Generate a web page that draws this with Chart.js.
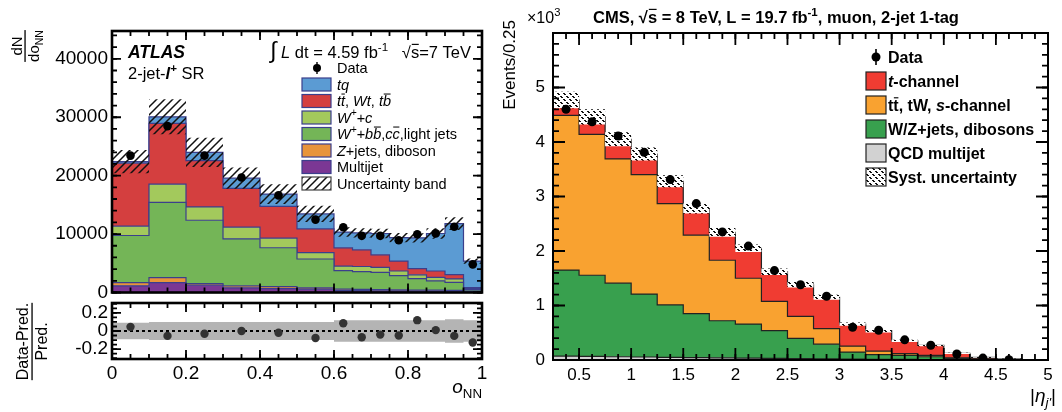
<!DOCTYPE html>
<html>
<head>
<meta charset="utf-8">
<script src="https://cdn.jsdelivr.net/npm/chart.js@4.4.0/dist/chart.umd.min.js"></script>
<style>
  body { margin: 0; background: #fff; }
  #wrap { position: relative; width: 1062px; height: 412px; overflow: hidden; }
  canvas { position: absolute; }
</style>
</head>
<body>
<div id="wrap">
  <canvas id="atlasMain" width="500" height="320" style="left:0px;top:0px"></canvas>
  <canvas id="atlasRatio" width="500" height="126" style="left:0px;top:286px"></canvas>
  <canvas id="cms" width="562" height="412" style="left:500px;top:0px"></canvas>
</div>
<script>
// ---- ATLAS, 2-jet-l+ SR, dN/do_NN per bin (bottom to top of the stack)
const atlasEdges = [0, 0.1, 0.2, 0.3, 0.4, 0.5, 0.6, 0.65, 0.7, 0.75, 0.8, 0.85, 0.9, 0.95, 1.0];
const atlasMultijet = [1135, 1700, 1250, 794, 680, 567, 340, 310, 290, 270, 250, 240, 230, 170];
const atlasZjets = [565, 850, 280, 341, 340, 228, 230, 220, 200, 180, 170, 160, 150, 80];
const atlasWlight = [8060, 12880, 10840, 8055, 6640, 4935, 3170, 3040, 2960, 2450, 1960, 1580, 1370, 230];
const atlasWc = [1590, 3120, 2270, 1990, 1640, 1080, 790, 880, 850, 780, 650, 620, 570, 170];
const atlasTop = [10780, 10390, 7940, 6635, 5450, 4080, 3120, 2850, 2150, 1700, 1070, 1080, 740, 170];
const atlasTq = [280, 1130, 1420, 1760, 2100, 2560, 2700, 2900, 3650, 4020, 5250, 6420, 8740, 4560];
const atlasData = [23430, 28480, 23430, 19690, 16625, 12480, 11170, 9700, 9700, 8950, 9980, 10120, 11260, 4820];
const atlasUnc = [2000, 3000, 2500, 1800, 1700, 1400, 800, 800, 800, 800, 800, 900, 1100, 450];
const atlasYTicks = [0, 10000, 20000, 30000, 40000];
const atlasXTicks = [0, 0.2, 0.4, 0.6, 0.8, 1];
const atlasXLabels = ['0', '0.2', '0.4', '0.6', '0.8', '1'];

// ratio panel (Data-Pred.)/Pred.
const ratioVals = [0.046, -0.054, -0.03, 0.0, -0.02, -0.077, 0.085, -0.07, -0.04, -0.05, 0.12, 0.01, -0.054, -0.127];
const ratioErr = [0.02, 0.02, 0.02, 0.02, 0.02, 0.025, 0.03, 0.03, 0.03, 0.03, 0.03, 0.03, 0.03, 0.04];
const ratioBand = [0.09, 0.1, 0.1, 0.1, 0.1, 0.1, 0.12, 0.12, 0.12, 0.12, 0.12, 0.12, 0.13, 0.12];
const ratioYTicks = [-0.2, 0, 0.2];
const ratioYLabels = ['-0.2', '0', '0.2'];

// ---- CMS, muon 2-jet 1-tag, events / 0.25 in units of 10^3
const cmsEdges = [0.25, 0.5, 0.75, 1, 1.25, 1.5, 1.75, 2, 2.25, 2.5, 2.75, 3, 3.25, 3.5, 3.75, 4, 4.25, 4.5, 4.75, 5];
const cmsQcd = [0.07, 0.065, 0.06, 0.055, 0.05, 0.045, 0.04, 0.035, 0.03, 0.025, 0.02, 0.015, 0.012, 0.01, 0.008, 0.005, 0.003, 0.002, 0.001];
const cmsWZ = [1.58, 1.49, 1.35, 1.155, 0.96, 0.805, 0.68, 0.625, 0.51, 0.37, 0.27, 0.131, 0.088, 0.075, 0.052, 0.025, 0.012, 0.003, 0.001];
const cmsTop = [2.84, 2.585, 2.28, 2.19, 1.86, 1.44, 1.11, 0.84, 0.535, 0.405, 0.287, 0.109, 0.064, 0.031, 0.025, 0.01, 0.005, 0.003, 0.001];
const cmsTch = [0.28, 0.32, 0.36, 0.38, 0.41, 0.49, 0.51, 0.55, 0.545, 0.58, 0.573, 0.405, 0.371, 0.234, 0.182, 0.082, 0.03, 0.012, 0.003];
const cmsData = [4.60, 4.37, 4.11, 3.81, 3.31, 2.87, 2.35, 2.09, 1.64, 1.38, 1.17, 0.60, 0.545, 0.37, 0.27, 0.11, 0.035, 0.004];
const cmsSyst = [0.15, 0.14, 0.13, 0.12, 0.11, 0.09, 0.08, 0.07, 0.06, 0.05, 0.045, 0.03, 0.03, 0.02, 0.015, 0.01, 0.008, 0.004, 0.002];
const cmsYTicks = [0, 1, 2, 3, 4, 5];
const cmsXTicks = [0.5, 1, 1.5, 2, 2.5, 3, 3.5, 4, 4.5, 5];
const cmsXLabels = ['0.5', '1', '1.5', '2', '2.5', '3', '3.5', '4', '4.5', '5'];

const FONT = "'Liberation Sans', Arial, Helvetica, sans-serif";
Chart.defaults.font.family = FONT;
Chart.defaults.color = '#000';

// step-histogram points: one point per edge, last edge repeats the last bin
function histPoints(edges, vals) {
  return edges.map((x, i) => ({ x: x, y: vals[Math.min(i, vals.length - 1)] }));
}
function centers(edges) {
  return edges.slice(1).map((e, i) => (e + edges[i]) / 2);
}
// running sums of the stacked components, bottom to top
function cumulate(parts) {
  const tops = [];
  let run = parts[0].map(() => 0);
  parts.forEach(p => { run = run.map((r, i) => r + p[i]); tops.push(run); });
  return tops;
}
function makePattern(size, paint) {
  const c = document.createElement('canvas');
  c.width = c.height = size;
  const g = c.getContext('2d');
  paint(g, size);
  return g.createPattern(c, 'repeat');
}

const atlasHatch = makePattern(8, (g, n) => {
  g.strokeStyle = '#111';
  g.lineWidth = 1.5;
  g.beginPath();
  g.moveTo(-1, n + 1); g.lineTo(n + 1, -1);
  g.moveTo(-1, 1); g.lineTo(1, -1);
  g.moveTo(n - 1, n + 1); g.lineTo(n + 1, n - 1);
  g.stroke();
});
// black/white checker-like fill for the systematic band
const cmsHatch = makePattern(6, (g, n) => {
  g.fillStyle = '#fff';
  g.fillRect(0, 0, n, n);
  g.fillStyle = '#111';
  g.fillRect(0, 0, 2, 1); g.fillRect(1, 1, 2, 1);
  g.fillRect(3, 3, 2, 1); g.fillRect(4, 4, 2, 1);
});

// mixed-style text: parts are [text, flags]; i italic, b bold, ^ sup, _ sub, - overline, L large
function partFont(f, size) {
  let s = size;
  if (f.includes('^') || f.includes('_')) s = size * 0.7;
  if (f.includes('L')) s = size * 1.4;
  return (f.includes('i') ? 'italic ' : '') + (f.includes('b') ? 'bold ' : '') + s + 'px ' + FONT;
}
function richWidth(ctx, parts, size) {
  let w = 0;
  parts.forEach(([t, f = '']) => { ctx.font = partFont(f, size); w += ctx.measureText(t).width; });
  return w;
}
function rich(ctx, x, y, parts, size, align) {
  const w = richWidth(ctx, parts, size);
  let cx = align === 'right' ? x - w : align === 'center' ? x - w / 2 : x;
  ctx.textAlign = 'left';
  ctx.textBaseline = 'alphabetic';
  parts.forEach(([t, f = '']) => {
    ctx.font = partFont(f, size);
    const dy = f.includes('^') ? -size * 0.42 : f.includes('_') ? size * 0.25 : 0;
    ctx.fillText(t, cx, y + dy);
    const tw = ctx.measureText(t).width;
    if (f.includes('-')) ctx.fillRect(cx + tw * 0.1, y + dy - size * 0.86, tw * 0.85, Math.max(1, size * 0.07));
    cx += tw;
  });
}
function rotatedFraction(ctx, cx, cy, top, bottom, size) {
  ctx.save();
  ctx.translate(cx, cy);
  ctx.rotate(-Math.PI / 2);
  const w = Math.max(richWidth(ctx, top, size), richWidth(ctx, bottom, size));
  rich(ctx, 0, -size * 0.22, top, size, 'center');
  ctx.fillRect(-w / 2, -0.6, w, 1.3);
  rich(ctx, 0, size * 0.92, bottom, size, 'center');
  ctx.restore();
}

// frame with inward major/minor ticks on all four sides
const frameTicks = {
  id: 'frameTicks',
  afterDatasetsDraw(chart, args, o) {
    const { ctx, chartArea: a } = chart;
    const xs = chart.scales.x, ys = chart.scales.y;
    ctx.save();
    ctx.strokeStyle = '#000';
    ctx.lineWidth = o.tickWidth;
    const marks = (scale, step, len, horizontal) => {
      const first = Math.ceil(scale.min / step - 1e-6), last = Math.floor(scale.max / step + 1e-6);
      ctx.beginPath();
      for (let k = first; k <= last; k++) {
        const p = scale.getPixelForValue(k * step);
        if (horizontal) {
          ctx.moveTo(p, a.bottom); ctx.lineTo(p, a.bottom - len);
          ctx.moveTo(p, a.top); ctx.lineTo(p, a.top + len);
        } else {
          ctx.moveTo(a.left, p); ctx.lineTo(a.left + len, p);
          ctx.moveTo(a.right, p); ctx.lineTo(a.right - len, p);
        }
      }
      ctx.stroke();
    };
    marks(xs, o.xMinor, o.minorLen, true);
    marks(xs, o.xMajor, o.majorLen, true);
    marks(ys, o.yMinor, o.minorLen, false);
    marks(ys, o.yMajor, o.majorLen, false);
    ctx.lineWidth = o.frameWidth;
    ctx.strokeRect(a.left, a.top, a.right - a.left, a.bottom - a.top);
    ctx.restore();
  }
};

// vertical error bars for datasets carrying an `errors` array
const errorBars = {
  id: 'errorBars',
  afterDatasetsDraw(chart) {
    const { ctx } = chart;
    const xs = chart.scales.x, ys = chart.scales.y;
    chart.data.datasets.forEach(ds => {
      if (!ds.errors) return;
      ctx.save();
      ctx.strokeStyle = ds.pointBackgroundColor;
      ctx.lineWidth = 1.8;
      ds.data.forEach((pt, i) => {
        const x = xs.getPixelForValue(pt.x);
        ctx.beginPath();
        ctx.moveTo(x, ys.getPixelForValue(pt.y - ds.errors[i]));
        ctx.lineTo(x, ys.getPixelForValue(pt.y + ds.errors[i]));
        ctx.stroke();
      });
      ctx.restore();
    });
  }
};

function stackSets(stack, edges, outline, width) {
  const tops = cumulate(stack.map(s => s.vals));
  return stack.map((s, k) => ({
    label: s.label,
    data: histPoints(edges, tops[k]),
    stepped: 'before',
    borderColor: outline,
    borderWidth: width,
    backgroundColor: s.color,
    fill: k === 0 ? 'origin' : '-1',
    pointRadius: 0,
    order: 10
  }));
}
function bandSets(edges, total, unc, pattern) {
  const lo = total.map((t, i) => t - unc[i]);
  const hi = total.map((t, i) => t + unc[i]);
  return [
    { data: histPoints(edges, lo), stepped: 'before', borderColor: 'rgba(0,0,0,0)', borderWidth: 0, pointRadius: 0, fill: false, order: 2 },
    { data: histPoints(edges, hi), stepped: 'before', borderColor: 'rgba(0,0,0,0)', borderWidth: 0, pointRadius: 0, fill: '-1', backgroundColor: pattern, order: 2 }
  ];
}
function sumOf(parts) {
  const tops = cumulate(parts);
  return tops[tops.length - 1];
}
function fixedTicks(vals) {
  return axis => { axis.ticks = vals.map(v => ({ value: v })); };
}
const noGrid = { display: false, drawTicks: false };
const noBorder = { display: false };

// ---------------- ATLAS main panel
const atlasStack = [
  { label: 'Multijet', vals: atlasMultijet, color: '#7b3794' },
  { label: 'Z+jets, diboson', vals: atlasZjets, color: '#e8943a' },
  { label: 'W+bb,cc,light jets', vals: atlasWlight, color: '#74b557' },
  { label: 'W+c', vals: atlasWc, color: '#a3c95c' },
  { label: 'tt, Wt, tb', vals: atlasTop, color: '#d43f3f' },
  { label: 'tq', vals: atlasTq, color: '#5b9bd3' }
];
const atlasTotal = sumOf(atlasStack.map(s => s.vals));

const atlasLegend = [
  [['tq', 'i']],
  [['t', 'i'], ['t', 'i-'], [', ', ''], ['Wt', 'i'], [', ', ''], ['t', 'i'], ['b', 'i-']],
  [['W', 'i'], ['+', 'i^'], ['+c', 'i']],
  [['W', 'i'], ['+', 'i^'], ['+b', 'i'], ['b', 'i-'], [',', ''], ['c', 'i'], ['c', 'i-'], [',light jets', '']],
  [['Z', 'i'], ['+jets, diboson', '']],
  [['Multijet', '']],
  [['Uncertainty band', '']]
];
const atlasLegendFill = ['#5b9bd3', '#d43f3f', '#a3c95c', '#74b557', '#e8943a', '#7b3794', atlasHatch];

const atlasText = {
  id: 'atlasText',
  afterDraw(chart) {
    const ctx = chart.ctx, a = chart.chartArea;
    ctx.save();
    ctx.fillStyle = '#000';
    rich(ctx, a.left + 16, a.top + 27, [['ATLAS', 'bi']], 17.5, 'left');
    rich(ctx, a.left + 16, a.top + 48, [['2-jet-', ''], ['l', 'bi'], ['+', 'b^'], [' SR', '']], 16.5, 'left');
    rich(ctx, a.right - 11, a.top + 27, [['\u222B', 'L'], [' ', ''], ['L', 'i'], [' dt = 4.59 fb', ''], ['-1', '^'], ['   \u221A', ''], ['s', '-'], ['=7 TeV', '']], 16.5, 'right');

    // legend
    const bx = 302, tx = 337, y0 = 68, dy = 16.5;
    ctx.beginPath();
    ctx.arc(bx + 15, y0, 4, 0, Math.PI * 2);
    ctx.fill();
    ctx.fillRect(bx + 14.3, y0 - 6, 1.4, 12);
    rich(ctx, tx, y0 + 5, [['Data', '']], 14.5, 'left');
    atlasLegend.forEach((parts, k) => {
      const cy = y0 + dy * (k + 1);
      ctx.fillStyle = atlasLegendFill[k];
      ctx.fillRect(bx, cy - 6.5, 29, 13);
      ctx.strokeStyle = k === 6 ? '#444' : '#3b3f8c';
      ctx.lineWidth = 1.2;
      ctx.strokeRect(bx, cy - 6.5, 29, 13);
      ctx.fillStyle = '#000';
      rich(ctx, tx, cy + 5, parts, 14.5, 'left');
    });

    rotatedFraction(ctx, 25, a.top + 15, [['dN', '']], [['do', ''], ['NN', '_']], 15);
    ctx.restore();
  }
};

new Chart(document.getElementById('atlasMain'), {
  type: 'line',
  data: {
    datasets: [
      ...stackSets(atlasStack, atlasEdges, '#3b3f8c', 1.2),
      ...bandSets(atlasEdges, atlasTotal, atlasUnc, atlasHatch),
      {
        label: 'Data',
        data: centers(atlasEdges).map((x, i) => ({ x: x, y: atlasData[i] })),
        showLine: false, pointRadius: 4.3, pointBackgroundColor: '#000', pointBorderWidth: 0, order: 0
      }
    ]
  },
  options: {
    responsive: false, animation: false, devicePixelRatio: 1,
    layout: { padding: { top: 31, bottom: 27.5, left: 0, right: 18 } },
    plugins: {
      legend: { display: false }, tooltip: { enabled: false },
      frameTicks: { xMinor: 0.05, xMajor: 0.2, yMinor: 2000, yMajor: 10000, majorLen: 9, minorLen: 5, tickWidth: 1.8, frameWidth: 2.6 }
    },
    scales: {
      x: { type: 'linear', min: 0, max: 1, display: false },
      y: {
        min: 0, max: 44760,
        afterFit: s => { s.width = 112; },
        afterBuildTicks: fixedTicks(atlasYTicks),
        grid: noGrid, border: noBorder,
        ticks: { font: { size: 19 }, color: '#000', padding: 4, callback: v => String(v) }
      }
    }
  },
  plugins: [errorBars, frameTicks, atlasText]
});

// ---------------- ATLAS ratio panel
const ratioText = {
  id: 'ratioText',
  afterDraw(chart) {
    const ctx = chart.ctx, a = chart.chartArea;
    ctx.save();
    ctx.fillStyle = '#000';
    rotatedFraction(ctx, 32, a.top + 38.5, [['Data-Pred.', '']], [['Pred.', '']], 16);
    rich(ctx, a.right, a.bottom + 34, [['o', 'i'], ['NN', '_']], 19, 'right');
    ctx.restore();
  }
};

new Chart(document.getElementById('atlasRatio'), {
  type: 'line',
  data: {
    datasets: [
      {
        label: 'Data',
        data: centers(atlasEdges).map((x, i) => ({ x: x, y: ratioVals[i] })),
        errors: ratioErr,
        showLine: false, pointRadius: 4.2, pointBackgroundColor: '#333', pointBorderWidth: 0, order: 0
      },
      {
        data: [{ x: 0, y: 0 }, { x: 1, y: 0 }],
        borderColor: '#000', borderWidth: 2, borderDash: [3, 3], pointRadius: 0, fill: false, order: 1
      },
      { data: histPoints(atlasEdges, ratioBand.map(v => -v)), stepped: 'before', borderColor: 'rgba(0,0,0,0)', borderWidth: 0, pointRadius: 0, fill: false, order: 5 },
      { data: histPoints(atlasEdges, ratioBand), stepped: 'before', borderColor: 'rgba(0,0,0,0)', borderWidth: 0, pointRadius: 0, fill: '-1', backgroundColor: '#b4b4b4', order: 5 }
    ]
  },
  options: {
    responsive: false, animation: false, devicePixelRatio: 1,
    layout: { padding: { top: 17, bottom: 0, left: 0, right: 18 } },
    plugins: {
      legend: { display: false }, tooltip: { enabled: false },
      frameTicks: { xMinor: 0.05, xMajor: 0.2, yMinor: 0.05, yMajor: 0.2, majorLen: 9, minorLen: 5, tickWidth: 1.8, frameWidth: 2.6 }
    },
    scales: {
      x: {
        type: 'linear', min: 0, max: 1,
        afterFit: s => { s.height = 53; },
        afterBuildTicks: fixedTicks(atlasXTicks),
        grid: noGrid, border: noBorder,
        ticks: { font: { size: 19 }, color: '#000', padding: 3, maxRotation: 0, autoSkip: false, callback: (v, i) => atlasXLabels[i] }
      },
      y: {
        min: -0.31, max: 0.31,
        afterFit: s => { s.width = 112; },
        afterBuildTicks: fixedTicks(ratioYTicks),
        grid: noGrid, border: noBorder,
        ticks: { font: { size: 19 }, color: '#000', padding: 4, autoSkip: false, callback: (v, i) => ratioYLabels[i] }
      }
    }
  },
  plugins: [errorBars, frameTicks, ratioText]
});

// ---------------- CMS panel
const cmsStack = [
  { label: 'QCD multijet', vals: cmsQcd, color: '#d2d2d2' },
  { label: 'W/Z+jets, dibosons', vals: cmsWZ, color: '#38a04e' },
  { label: 'tt, tW, s-channel', vals: cmsTop, color: '#f9a230' },
  { label: 't-channel', vals: cmsTch, color: '#f03c32' }
];
const cmsTotal = sumOf(cmsStack.map(s => s.vals));

const cmsLegend = [
  [['t', 'bi'], ['-channel', 'b']],
  [['t', 'b'], ['t', 'b-'], [', tW, ', 'b'], ['s', 'bi'], ['-channel', 'b']],
  [['W/Z+jets, dibosons', 'b']],
  [['QCD multijet', 'b']],
  [['Syst. uncertainty', 'b']]
];
const cmsLegendFill = ['#f03c32', '#f9a230', '#38a04e', '#d2d2d2', cmsHatch];

const cmsText = {
  id: 'cmsText',
  afterDraw(chart) {
    const ctx = chart.ctx, a = chart.chartArea;
    ctx.save();
    ctx.fillStyle = '#000';
    rich(ctx, a.left + 40, 23, [['CMS, \u221A', 'b'], ['s', 'b-'], [' = 8 TeV, L = 19.7 fb', 'b'], ['-1', 'b^'], [', muon, 2-jet 1-tag', 'b']], 16.5, 'left');
    rich(ctx, a.left - 26, 23, [['\u00D710', ''], ['3', '^']], 16, 'left');

    ctx.save();
    ctx.translate(a.left - 38, 20);
    ctx.rotate(-Math.PI / 2);
    rich(ctx, 0, 0, [['Events/0.25', '']], 17, 'right');
    ctx.restore();

    rich(ctx, a.right + 8, a.bottom + 42, [['|', ''], ['\u03B7', 'i'], ["j'", 'i_'], ['|', '']], 19, 'right');

    // legend
    const bx = a.right - 182, tx = a.right - 160, y0 = 57, dy = 24;
    ctx.beginPath();
    ctx.arc(bx + 10, y0, 4.5, 0, Math.PI * 2);
    ctx.fill();
    ctx.fillRect(bx + 9.2, y0 - 8, 1.6, 16);
    rich(ctx, tx, y0 + 6, [['Data', 'b']], 16, 'left');
    cmsLegend.forEach((parts, k) => {
      const cy = y0 + dy * (k + 1);
      ctx.fillStyle = cmsLegendFill[k];
      ctx.fillRect(bx, cy - 9, 20, 18);
      ctx.strokeStyle = '#222';
      ctx.lineWidth = 1.2;
      ctx.strokeRect(bx, cy - 9, 20, 18);
      ctx.fillStyle = '#000';
      rich(ctx, tx, cy + 6, parts, 16, 'left');
    });
    ctx.restore();
  }
};

new Chart(document.getElementById('cms'), {
  type: 'line',
  data: {
    datasets: [
      ...stackSets(cmsStack, cmsEdges, '#222', 1.2),
      ...bandSets(cmsEdges, cmsTotal, cmsSyst, cmsHatch),
      {
        label: 'Data',
        data: centers(cmsEdges).slice(0, cmsData.length).map((x, i) => ({ x: x, y: cmsData[i] })),
        showLine: false, pointRadius: 4.5, pointBackgroundColor: '#000', pointBorderWidth: 0, order: 0
      }
    ]
  },
  options: {
    responsive: false, animation: false, devicePixelRatio: 1,
    layout: { padding: { top: 33, bottom: 0, left: 0, right: 14 } },
    plugins: {
      legend: { display: false }, tooltip: { enabled: false },
      frameTicks: { xMinor: 0.125, xMajor: 0.5, yMinor: 0.2, yMajor: 1, majorLen: 12, minorLen: 6, tickWidth: 1.8, frameWidth: 2 }
    },
    scales: {
      x: {
        type: 'linear', min: 0.25, max: 5,
        afterFit: s => { s.height = 52; },
        afterBuildTicks: fixedTicks(cmsXTicks),
        grid: noGrid, border: noBorder,
        ticks: { font: { size: 17 }, color: '#000', padding: 5, maxRotation: 0, autoSkip: false, callback: (v, i) => cmsXLabels[i] }
      },
      y: {
        min: 0, max: 6,
        afterFit: s => { s.width = 53; },
        afterBuildTicks: fixedTicks(cmsYTicks),
        grid: noGrid, border: noBorder,
        ticks: { font: { size: 17 }, color: '#000', padding: 8, autoSkip: false, callback: (v, i) => String(cmsYTicks[i]) }
      }
    }
  },
  plugins: [frameTicks, cmsText]
});
</script>
</body>
</html>
